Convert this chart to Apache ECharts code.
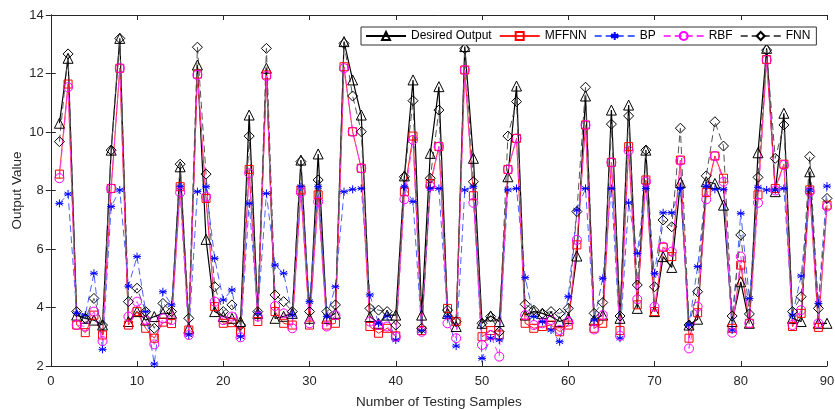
<!DOCTYPE html>
<html>
<head>
<meta charset="utf-8">
<script src="https://cdn.jsdelivr.net/npm/echarts@6/dist/echarts.min.js"></script>
<style>html,body{margin:0;padding:0;background:#fff;}#c{width:835px;height:410px;}</style>
</head>
<body>
<div id="c"></div>
<script>
const seriesNames = ['Desired Output','MFFNN','BP','RBF','FNN'];
const xTicks = [0,10,20,30,40,50,60,70,80,90];
const yTicks = [2,4,6,8,10,12,14];
const desired = [10.30,12.52,3.74,3.63,3.57,3.40,9.38,13.20,3.52,3.86, 3.57,3.69,3.80,3.80,8.81,3.29,12.29,6.33,3.86,3.69, 3.63,3.52,10.58,3.80,12.18,3.63,3.70,3.80,9.04,3.63, 9.25,3.63,3.80,13.09,11.78,10.58,3.69,3.46,3.74,3.74, 8.50,11.78,3.74,9.27,11.55,3.80,3.35,12.92,9.10,3.46, 3.71,3.52,8.47,11.57,3.74,3.86,3.80,3.69,3.52,3.63, 5.76,11.23,3.57,3.74,10.75,3.63,10.92,3.97,9.38,3.86, 5.74,5.37,8.27,3.40,3.60,8.30,8.24,7.50,3.52,4.88, 3.46,9.29,12.86,7.96,10.64,3.63,3.52,8.64,3.46,3.46];
const mffnn = [8.56,11.64,3.40,3.14,3.74,3.06,8.07,12.18,3.40,3.86, 3.29,2.95,3.50,3.45,8.13,3.23,11.98,7.73,4.03,3.46, 3.48,3.17,8.72,3.52,11.95,3.86,3.46,3.40,8.02,3.40, 7.85,3.40,3.46,12.23,10.01,8.76,3.35,3.12,3.29,3.03, 7.96,9.86,3.21,8.24,9.50,3.97,3.52,12.12,7.82,3.00, 3.21,3.06,8.72,9.78,3.46,3.29,3.35,3.40,3.17,3.40, 6.14,10.24,3.29,3.46,8.96,3.21,9.50,4.09,8.36,3.86, 6.06,5.74,9.04,2.95,3.82,7.93,9.18,8.42,3.29,5.45, 3.46,7.85,12.48,8.07,8.90,3.35,3.80,8.02,3.32,7.50];
const bp = [7.56,7.88,3.80,3.74,5.17,2.57,7.45,8.02,4.73,5.74, 3.86,2.07,4.54,4.09,8.13,3.06,7.96,8.13,5.68,4.26, 4.60,3.00,7.56,3.80,7.90,5.45,5.17,3.74,8.13,4.20, 8.13,3.69,4.71,7.96,8.04,8.07,4.43,3.46,3.71,2.89, 8.13,7.62,3.21,8.07,8.07,3.69,2.68,8.02,8.13,2.26, 2.95,2.89,8.02,8.07,5.02,3.69,3.52,3.23,2.83,4.37, 7.33,8.07,3.57,5.00,8.07,2.95,7.58,5.85,8.07,5.17, 7.24,7.24,8.07,3.40,5.40,8.15,8.04,8.04,3.23,7.22, 4.31,8.11,8.02,8.02,8.07,3.74,5.08,8.02,4.14,8.15];
const rbf = [8.42,11.53,3.40,3.35,3.86,2.85,8.07,12.18,3.69,4.20, 3.57,2.74,3.63,3.57,7.93,3.06,11.95,7.79,4.20,3.57, 3.69,2.98,8.59,3.69,11.91,4.05,3.80,3.29,7.93,3.46, 7.62,3.35,3.74,12.18,10.01,8.76,3.52,3.40,3.35,3.00, 7.70,9.73,3.17,8.15,9.50,3.46,2.95,12.12,7.58,2.72, 3.06,2.32,8.72,9.78,3.74,3.40,3.46,3.57,3.23,3.52, 6.31,10.24,3.25,3.74,8.96,3.03,9.36,4.28,8.30,4.03, 6.08,5.91,9.02,2.60,4.03,7.70,9.18,8.30,3.14,5.74, 3.46,7.58,12.46,8.00,8.87,3.40,3.91,7.96,3.46,7.45];
const fnn = [9.67,12.67,3.86,3.63,4.31,3.40,9.38,13.20,4.20,4.66, 3.86,3.29,4.14,3.86,8.90,3.63,12.90,8.56,4.71,3.86, 4.09,3.40,9.86,3.86,12.86,4.43,4.20,3.86,8.99,3.86, 8.36,3.86,4.09,13.03,11.23,10.01,3.97,3.91,3.86,3.40, 8.47,11.07,3.29,8.42,10.75,3.91,3.52,12.85,8.30,3.46, 3.69,3.17,9.86,11.04,4.11,3.91,3.80,3.86,3.80,3.97, 7.28,11.53,3.80,4.17,10.27,3.71,10.55,4.77,9.38,4.71, 6.99,6.76,10.13,3.40,4.54,8.50,10.35,9.52,3.71,6.48, 3.78,8.45,12.80,9.10,10.24,3.86,4.37,9.16,3.97,7.73];

const toPairs = arr => arr.map((v, i) => [i + 1, v]);
const star = 'path://M0,-10L0,10M-8.66,-5L8.66,5M-8.66,5L8.66,-5M-10,0L10,0';
const font = 'Liberation Sans, Arial, Helvetica, sans-serif';
const axisCol = '#262626';

const chart = echarts.init(document.getElementById('c'), null, {renderer: 'canvas'});
const mk = (name, data, lineColor, markColor, dash, symbol, size, lw) => ({
  name, type: 'line', data: toPairs(data), symbol, symbolSize: size,
  showAllSymbol: true, animation: false,
  lineStyle: {color: lineColor, width: lw, type: dash},
  itemStyle: {color: 'rgba(255,255,255,0)', borderColor: markColor, borderWidth: 1},
  emphasis: {disabled: true}
});
const xAxisBase = {type: 'value', min: 0, max: 90, interval: 10, gridIndex: 0,
  axisLine: {show: true, lineStyle: {color: axisCol, width: 1}},
  axisTick: {show: true, inside: true, length: 5, lineStyle: {color: axisCol}},
  splitLine: {show: false}};
const yAxisBase = {type: 'value', min: 2, max: 14, interval: 2, gridIndex: 0,
  axisLine: {show: true, lineStyle: {color: axisCol, width: 1}},
  axisTick: {show: true, inside: true, length: 5, lineStyle: {color: axisCol}},
  splitLine: {show: false}};

chart.setOption({
  backgroundColor: '#fff',
  animation: false,
  textStyle: {fontFamily: font},
  grid: {left: 50.8, right: 8, top: 15, bottom: 44, containLabel: false, outerBoundsMode: 'none'},
  legend: {
    left: 361, top: 27, padding: [3, 6, 3, 4], itemGap: 7, itemWidth: 40, itemHeight: 10,
    backgroundColor: '#fff', borderColor: '#333', borderWidth: 1,
    textStyle: {fontFamily: font, fontSize: 12, color: '#000'},
    data: seriesNames
  },
  xAxis: [
    Object.assign({}, xAxisBase, {position: 'bottom',
      name: 'Number of Testing Samples', nameLocation: 'middle', nameGap: 29,
      nameTextStyle: {fontFamily: font, fontSize: 13.5, color: axisCol},
      axisLabel: {show: true, color: axisCol, fontSize: 13, fontFamily: font, margin: 9,
        formatter: v => xTicks.includes(v) ? String(v) : ''}}),
    Object.assign({}, xAxisBase, {position: 'top', axisLabel: {show: false}})
  ],
  yAxis: [
    Object.assign({}, yAxisBase, {position: 'left',
      name: 'Output Value', nameLocation: 'middle', nameGap: 27, nameMoveOverlap: false,
      nameTextStyle: {fontFamily: font, fontSize: 13.5, color: axisCol},
      axisLabel: {show: true, color: axisCol, fontSize: 13, fontFamily: font, margin: 7,
        formatter: v => yTicks.includes(v) ? String(v) : ''}}),
    Object.assign({}, yAxisBase, {position: 'right', axisLabel: {show: false}})
  ],
  series: [
    mk(seriesNames[0], desired, '#000000', '#000000', 'solid', 'triangle', 10, 1.2),
    mk(seriesNames[1], mffnn, '#ff2020', '#ff0000', 'solid', 'rect', 8, 1),
    mk(seriesNames[2], bp, '#4a64ff', '#0000ff', [7, 4], star, 8, 1),
    mk(seriesNames[3], rbf, '#ff40ff', '#ff00ff', [7, 4], 'circle', 9, 1),
    mk(seriesNames[4], fnn, '#555555', '#000000', [7, 4], 'diamond', 10, 1)
  ]
});
</script>
</body>
</html>
